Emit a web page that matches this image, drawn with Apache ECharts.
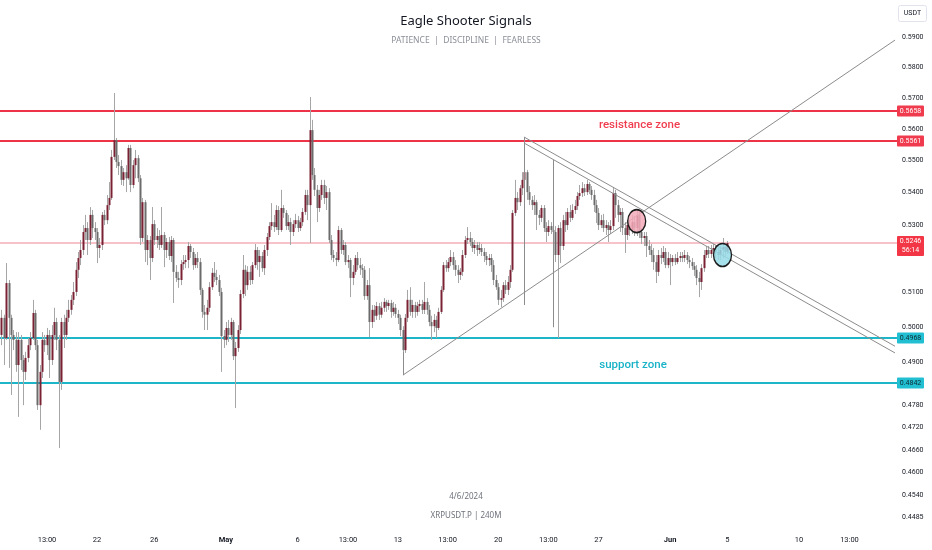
<!DOCTYPE html>
<html><head><meta charset="utf-8">
<script src="https://cdn.jsdelivr.net/npm/echarts@6/dist/echarts.min.js"></script>
<style>html,body{margin:0;padding:0;background:#fff}#c{width:932px;height:550px}</style>
</head><body><div id="c"></div>
<script>
// ---- data ----
const candleStart = '2024-04-15T08:00:00Z';
const candleHours = 4;
// [open, close, low, high]
const candles = [
[.4977,.5026,.4948,.5049],[.5026,.4968,.4892,.5035],[.4968,.5127,.4963,.5186],[.5127,.5026,.4884,.5136],[.5026,.4977,.4809,.5035],
[.4977,.4963,.4934,.4991],[.4963,.4892,.4873,.4985],[.4892,.4963,.4749,.4985],[.4963,.4906,.4878,.4977],[.4906,.4873,.4781,.4920],
[.4873,.4912,.4850,.4929],[.4912,.4948,.4900,.4968],[.4948,.4968,.4934,.4985],[.4968,.5040,.4963,.5078],[.5040,.4948,.4934,.5049],
[.4948,.4781,.4768,.4963],[.4781,.4873,.4714,.4892],[.4873,.4963,.4856,.4985],[.4963,.4948,.4929,.4977],[.4948,.4977,.4920,.4997],
[.4977,.4906,.4856,.4991],[.4906,.4977,.4892,.5005],[.4977,.5014,.4963,.5055],[.5014,.4963,.4934,.5026],[.4963,.4845,.4665,.4977],
[.4845,.5014,.4823,.5026],[.5014,.4977,.4940,.5035],[.4977,.5026,.4963,.5049],[.5026,.5049,.5014,.5078],[.5049,.5078,.5035,.5092],
[.5078,.5101,.5063,.5130],[.5101,.5166,.5089,.5189],[.5166,.5201,.5142,.5219],[.5201,.5225,.5180,.5255],[.5225,.5279,.5210,.5300],
[.5279,.5291,.5255,.5331],[.5291,.5255,.5210,.5309],[.5255,.5331,.5240,.5355],[.5331,.5291,.5261,.5346],[.5291,.5279,.5255,.5309],
[.5279,.5231,.5186,.5291],[.5231,.5240,.5201,.5261],[.5240,.5331,.5225,.5340],[.5331,.5315,.5300,.5346],[.5315,.5361,.5303,.5392],
[.5361,.5383,.5346,.5432],[.5383,.5511,.5377,.5533],[.5511,.5564,.5501,.5716],[.5564,.5495,.5476,.5571],[.5495,.5482,.5454,.5517],
[.5482,.5439,.5423,.5501],[.5439,.5463,.5420,.5476],[.5463,.5444,.5401,.5485],[.5444,.5539,.5439,.5549],[.5539,.5423,.5401,.5549],
[.5423,.5485,.5413,.5501],[.5485,.5507,.5444,.5533],[.5507,.5444,.5432,.5517],[.5444,.5261,.5240,.5454],[.5261,.5370,.5249,.5383],
[.5370,.5225,.5189,.5377],[.5225,.5255,.5180,.5270],[.5255,.5201,.5136,.5267],[.5201,.5303,.5189,.5355],[.5303,.5255,.5240,.5315],
[.5255,.5267,.5231,.5291],[.5267,.5240,.5225,.5285],[.5240,.5270,.5231,.5355],[.5270,.5225,.5174,.5279],[.5225,.5249,.5201,.5261],
[.5249,.5207,.5195,.5264],[.5207,.5255,.5189,.5267],[.5255,.5160,.5069,.5261],[.5160,.5142,.5130,.5180],[.5142,.5136,.5113,.5160],
[.5136,.5183,.5121,.5195],[.5183,.5189,.5166,.5210],[.5189,.5195,.5171,.5210],[.5195,.5237,.5171,.5249],[.5237,.5219,.5201,.5243],
[.5219,.5180,.5166,.5231],[.5180,.5201,.5171,.5213],[.5201,.5189,.5171,.5219],[.5189,.5107,.5092,.5201],[.5107,.5043,.5026,.5113],
[.5043,.5035,.4991,.5063],[.5035,.5055,.4991,.5078],[.5055,.5115,.5043,.5130],[.5115,.5157,.5107,.5171],[.5157,.5145,.5130,.5189],
[.5145,.5136,.5121,.5166],[.5136,.5101,.5089,.5151],[.5101,.4974,.4873,.5113],[.4974,.4963,.4940,.4991],[.4963,.4997,.4948,.5014],
[.4997,.4977,.4957,.5020],[.4977,.5014,.4963,.5026],[.5014,.4917,.4906,.5020],[.4917,.4940,.4773,.4957],[.4940,.4991,.4929,.5005],
[.4991,.5095,.4980,.5107],[.5095,.5166,.5083,.5210],[.5166,.5121,.5089,.5180],[.5121,.5160,.5107,.5177],[.5160,.5136,.5121,.5177],
[.5136,.5180,.5124,.5189],[.5180,.5225,.5171,.5243],[.5225,.5189,.5166,.5234],[.5189,.5207,.5145,.5225],[.5207,.5171,.5160,.5219],
[.5171,.5225,.5151,.5240],[.5225,.5264,.5207,.5276],[.5264,.5297,.5255,.5309],[.5297,.5309,.5285,.5367],[.5309,.5294,.5279,.5331],
[.5294,.5346,.5285,.5361],[.5346,.5285,.5270,.5358],[.5285,.5352,.5279,.5408],[.5352,.5337,.5322,.5361],[.5337,.5297,.5285,.5346],
[.5297,.5309,.5285,.5331],[.5309,.5279,.5240,.5322],[.5279,.5303,.5267,.5315],[.5303,.5315,.5291,.5334],[.5315,.5291,.5279,.5328],
[.5291,.5309,.5282,.5322],[.5309,.5340,.5297,.5352],[.5340,.5392,.5331,.5408],[.5392,.5361,.5315,.5408],[.5361,.5596,.5246,.5703],
[.5596,.5454,.5439,.5629],[.5454,.5408,.5389,.5476],[.5408,.5352,.5309,.5423],[.5352,.5392,.5340,.5408],[.5392,.5423,.5377,.5439],
[.5423,.5383,.5364,.5439],[.5383,.5401,.5346,.5420],[.5401,.5255,.5246,.5413],[.5255,.5210,.5195,.5270],[.5210,.5201,.5189,.5225],
[.5201,.5195,.5177,.5219],[.5195,.5285,.5189,.5297],[.5285,.5225,.5213,.5291],[.5225,.5240,.5210,.5255],[.5240,.5189,.5180,.5249],
[.5189,.5195,.5171,.5210],[.5195,.5142,.5086,.5201],[.5142,.5160,.5121,.5180],[.5160,.5201,.5151,.5210],[.5201,.5180,.5166,.5219],
[.5180,.5171,.5151,.5201],[.5171,.5166,.5142,.5183],[.5166,.5089,.5078,.5177],[.5089,.5121,.5078,.5136],[.5121,.5014,.4971,.5171],
[.5014,.5049,.4997,.5063],[.5049,.5032,.5014,.5063],[.5032,.5060,.5020,.5072],[.5060,.5035,.5020,.5069],[.5035,.5055,.5026,.5072],
[.5055,.5072,.5043,.5083],[.5072,.5060,.5043,.5078],[.5060,.5069,.5049,.5078],[.5069,.5043,.5026,.5078],[.5043,.5055,.5032,.5072],
[.5055,.5037,.5026,.5066],[.5037,.5026,.5008,.5049],[.5026,.4991,.4974,.5035],[.4991,.4934,.4900,.5002],[.4934,.5026,.4926,.5037],
[.5026,.5078,.5014,.5107],[.5078,.5043,.5032,.5115],[.5043,.5063,.5026,.5078],[.5063,.5043,.5026,.5072],[.5043,.5060,.5032,.5072],
[.5060,.5066,.5043,.5078],[.5066,.5049,.5037,.5078],[.5049,.5072,.5037,.5130],[.5072,.5049,.5035,.5083],[.5049,.5014,.5002,.5063],
[.5014,.5002,.4963,.5032],[.5002,.5020,.4985,.5037],[.5020,.4997,.4968,.5032],[.4997,.5043,.4991,.5055],[.5043,.5107,.5037,.5118],
[.5107,.5180,.5101,.5189],[.5180,.5171,.5160,.5195],[.5171,.5189,.5160,.5201],[.5189,.5204,.5177,.5225],[.5204,.5180,.5166,.5219],
[.5180,.5166,.5148,.5195],[.5166,.5151,.5127,.5180],[.5151,.5160,.5136,.5171],[.5160,.5210,.5148,.5225],[.5210,.5255,.5201,.5267],
[.5255,.5261,.5243,.5294],[.5261,.5249,.5237,.5279],[.5249,.5231,.5219,.5261],[.5231,.5240,.5213,.5255],[.5240,.5225,.5207,.5249],
[.5225,.5231,.5213,.5249],[.5231,.5219,.5207,.5243],[.5219,.5207,.5189,.5231],[.5207,.5195,.5180,.5219],[.5195,.5201,.5177,.5213],
[.5201,.5180,.5160,.5213],[.5180,.5136,.5121,.5195],[.5136,.5115,.5107,.5151],[.5115,.5078,.5063,.5127],[.5078,.5083,.5057,.5107],
[.5083,.5121,.5072,.5130],[.5121,.5107,.5095,.5136],[.5107,.5130,.5092,.5148],[.5130,.5166,.5113,.5180],[.5166,.5337,.5160,.5346],
[.5337,.5383,.5328,.5439],[.5383,.5370,.5346,.5401],[.5370,.5413,.5358,.5423],[.5413,.5439,.5392,.5463],[.5439,.5463,.5408,.5476],
[.5463,.5401,.5377,.5470],[.5401,.5377,.5361,.5420],[.5377,.5361,.5346,.5389],[.5361,.5370,.5331,.5392],[.5370,.5331,.5285,.5377],
[.5331,.5322,.5300,.5346],[.5322,.5352,.5309,.5361],[.5352,.5291,.5279,.5361],[.5291,.5279,.5249,.5309],[.5279,.5297,.5267,.5315],
[.5297,.5285,.5273,.5309],[.5285,.5279,.5255,.5303],[.5279,.5210,.5189,.5297],[.5210,.5291,.4968,.5300],[.5291,.5237,.5186,.5309],
[.5237,.5315,.5225,.5331],[.5315,.5300,.5279,.5340],[.5300,.5340,.5285,.5352],[.5340,.5322,.5309,.5361],[.5322,.5346,.5315,.5364],
[.5346,.5358,.5334,.5377],[.5358,.5389,.5346,.5401],[.5389,.5398,.5377,.5423],[.5398,.5413,.5386,.5432],[.5413,.5401,.5389,.5426],
[.5401,.5426,.5392,.5439],[.5426,.5408,.5395,.5432],[.5408,.5392,.5377,.5420],[.5392,.5361,.5340,.5408],[.5361,.5337,.5306,.5377],
[.5337,.5300,.5285,.5352],[.5300,.5315,.5291,.5331],[.5315,.5291,.5279,.5334],[.5291,.5300,.5270,.5315],[.5300,.5285,.5249,.5309],
[.5285,.5297,.5273,.5315],[.5297,.5398,.5285,.5417],[.5398,.5361,.5322,.5408],[.5361,.5331,.5309,.5377],[.5331,.5340,.5279,.5352],
[.5340,.5291,.5270,.5352],[.5291,.5270,.5216,.5309],[.5270,.5300,.5255,.5315],[.5300,.5285,.5267,.5315],[.5285,.5309,.5273,.5331],
[.5309,.5291,.5267,.5328],[.5291,.5331,.5267,.5346],[.5331,.5279,.5261,.5346],[.5279,.5261,.5243,.5291],[.5261,.5267,.5237,.5279],
[.5267,.5237,.5204,.5279],[.5237,.5225,.5210,.5255],[.5225,.5210,.5189,.5243],[.5210,.5189,.5166,.5231],[.5189,.5160,.5127,.5210],
[.5160,.5210,.5148,.5225],[.5210,.5201,.5183,.5231],[.5201,.5219,.5189,.5237],[.5219,.5180,.5171,.5231],[.5180,.5201,.5171,.5219],
[.5201,.5189,.5121,.5213],[.5189,.5201,.5177,.5210],[.5201,.5189,.5180,.5213],[.5189,.5201,.5183,.5219],[.5201,.5207,.5189,.5219],
[.5207,.5201,.5189,.5219],[.5201,.5210,.5189,.5225],[.5210,.5195,.5183,.5219],[.5195,.5189,.5171,.5207],[.5189,.5177,.5166,.5201],
[.5177,.5166,.5148,.5189],[.5166,.5142,.5121,.5180],[.5142,.5130,.5086,.5160],[.5130,.5171,.5107,.5183],[.5171,.5210,.5160,.5225],
[.5210,.5225,.5201,.5237],[.5225,.5213,.5201,.5237],[.5213,.5225,.5201,.5240],[.5225,.5231,.5207,.5243],[.5231,.5219,.5201,.5240],
[.5219,.5210,.5195,.5231],[.5210,.5225,.5195,.5237],[.5225,.5234,.5201,.5261],[.5234,.5219,.5207,.5243],[.5219,.5246,.5213,.5252]
];

const yTicks = [0.59, 0.58, 0.57, 0.56, 0.55, 0.54, 0.53, 0.51, 0.50, 0.49, 0.478, 0.472, 0.466, 0.46, 0.454, 0.4485];
const xTickTimes = ['2024-04-18T12:14:00Z','2024-04-22T00:00:00Z','2024-04-26T00:00:00Z','2024-05-01T00:00:00Z','2024-05-06T00:00:00Z',
  '2024-05-09T12:27:00Z','2024-05-13T00:00:00Z','2024-05-16T11:28:00Z','2024-05-20T00:00:00Z','2024-05-23T12:00:00Z',
  '2024-05-27T00:00:00Z','2024-06-01T00:00:00Z','2024-06-05T00:00:00Z','2024-06-10T00:00:00Z','2024-06-13T12:31:00Z'];
const xTickTexts = ['13:00','22','26','May','6','13:00','13','13:00','20','13:00','27','Jun','5','10','13:00'];
const xBold = ['May','Jun'];

const resistanceLevels = [0.5658, 0.5561];
const supportLevels = [0.4968, 0.4842];
const lastPrice = 0.5246;
const countdown = '56:14';

// drawn trend lines: [[time, price], [time, price]]
const trendLines = [
  [['2024-05-13T08:35:00Z', 0.4864], ['2024-06-16T16:47:00Z', 0.5892]],
  [['2024-05-21T19:18:00Z', 0.5574], ['2024-06-16T16:47:00Z', 0.4945]],
  [['2024-05-21T19:18:00Z', 0.5555], ['2024-06-16T16:47:00Z', 0.4926]],
  [['2024-05-21T19:18:00Z', 0.5574], ['2024-05-21T19:18:00Z', 0.5063]],
  [['2024-05-23T19:52:00Z', 0.5501], ['2024-05-23T19:52:00Z', 0.4999]],
  [['2024-05-13T08:35:00Z', 0.4929], ['2024-05-13T08:35:00Z', 0.4864]]
];
const circleMarks = [
  {time: '2024-05-29T16:05:00Z', price: 0.5312, fill: 'rgba(243,170,186,0.85)'},
  {time: '2024-06-04T15:50:00Z', price: 0.5210, fill: 'rgba(150,218,232,0.85)'}
];
const zoneLabels = [
  {text: 'resistance zone', time: '2024-05-29T20:47:00Z', price: 0.5612, color: '#f03e50'},
  {text: 'support zone', time: '2024-05-29T09:53:00Z', price: 0.4892, color: '#19b3c7'}
];
const xMin = '2024-04-15T05:30:00Z', xMax = '2024-06-16T20:08:00Z';
const yMin = 0.44666, yMax = 0.60287;

// ---- build ----
const t0 = Date.parse(candleStart);
const rows = candles.map((c, i) => [t0 + i * candleHours * 3600000, c[0], c[1], c[2], c[3]]);
const tickNums = xTickTimes.map(s => Date.parse(s));
const tickMap = {};
tickNums.forEach((t, i) => tickMap[t] = xTickTexts[i]);
const P = s => Date.parse(s);

// level styles: [lineColor, lineWidth, tagBg, tagText]
const LEVEL_STYLE = {
  r: ['#ec3347', 2, '#ef3b4d', '#ffffff'],
  c: ['#1db6c9', 2, '#22bfd3', '#0d2a30'],
  p: ['#f7c2ca', 2, '#f23645', '#ffffff']
};
const levelRows = [[P(xMin), lastPrice, 'p']]
  .concat(resistanceLevels.map(v => [P(xMin), v, 'r']))
  .concat(supportLevels.map(v => [P(xMin), v, 'c']));

const greyData = trendLines.map(seg => [
  {coord: [P(seg[0][0]), seg[0][1]]},
  {coord: [P(seg[1][0]), seg[1][1]]}
]);

const option = {
  animation: false,
  backgroundColor: '#ffffff',
  title: {
    text: 'Eagle Shooter Signals', subtext: 'PATIENCE  |  DISCIPLINE  |  FEARLESS',
    left: 'center', top: 10, itemGap: 8,
    textStyle: {fontSize: 13, fontWeight: 'normal', color: '#131722', fontFamily: 'Noto Sans'},
    subtextStyle: {fontSize: 8.5, color: '#8c8f98', fontFamily: 'Noto Sans'}
  },
  grid: {left: 0, right: 35, top: 0, bottom: 26},
  xAxis: {
    type: 'value', min: P(xMin), max: P(xMax),
    axisLine: {show: false}, axisTick: {show: false}, splitLine: {show: false},
    axisLabel: {
      customValues: tickNums, margin: 12, fontSize: 7.5, color: '#131722', fontFamily: 'Roboto',
      formatter: v => { const s = tickMap[v] || ''; return xBold.includes(s) ? '{b|' + s + '}' : s; },
      rich: {b: {fontWeight: 'bold', fontSize: 7.5, color: '#131722', fontFamily: 'Roboto'}}
    }
  },
  yAxis: {
    type: 'log', logBase: 10, min: yMin, max: yMax, position: 'right',
    axisLine: {show: false}, axisTick: {show: false}, splitLine: {show: false}, minorTick: {show: false},
    axisLabel: {customValues: yTicks, margin: 5, fontSize: 7, color: '#131722', fontFamily: 'Roboto',
      formatter: v => Number(v).toFixed(4)}
  },
  graphic: [
    {type: 'rect', shape: {x: 898.5, y: 5.5, width: 28, height: 16, r: 2}, style: {fill: '#fff', stroke: '#e0e3eb', lineWidth: 1}},
    {type: 'text', x: 912.5, y: 13.5, style: {text: 'USDT', fontSize: 7, fill: '#131722', fontFamily: 'Roboto', align: 'center', verticalAlign: 'middle'}},
    {type: 'text', x: 466, y: 497, style: {text: '4/6/2024', fontSize: 8, fill: '#6f727c', fontFamily: 'Noto Sans', align: 'center', verticalAlign: 'middle'}},
    {type: 'text', x: 466, y: 516, style: {text: 'XRPUSDT.P | 240M', fontSize: 8, fill: '#6f727c', fontFamily: 'Noto Sans', align: 'center', verticalAlign: 'middle'}}
  ],
  series: [
    {
      // horizontal price levels with price tags
      type: 'custom', z: 2, clip: false, silent: true,
      data: levelRows,
      encode: {x: 0, y: 1},
      renderItem: function (params, api) {
        const kind = levelRows[params.dataIndex][2];
        const st = LEVEL_STYLE[kind];
        const v = api.value(1);
        const cs = params.coordSys;
        const yRaw = api.coord([api.value(0), v])[1];
        const y = st[1] % 2 === 1 ? Math.round(yRaw) + 0.5 : Math.round(yRaw);
        const right = cs.x + cs.width;
        const two = kind === 'p';
        const text = two ? v.toFixed(4) + '\n' + countdown : v.toFixed(4);
        const h = two ? 20 : 11;
        const top = two ? yRaw - 7 : yRaw - 5.5;
        return {type: 'group', children: [
          {type: 'line', shape: {x1: cs.x, y1: y, x2: right, y2: y}, style: {stroke: st[0], lineWidth: st[1]}},
          {type: 'rect', shape: {x: right, y: top, width: 27, height: h, r: 1}, style: {fill: st[2]}},
          {type: 'text', x: right + 13.5, y: top + h / 2, style: {text: text, fill: st[3], fontSize: 7, fontFamily: 'Roboto',
            align: 'center', verticalAlign: 'middle', lineHeight: 9}}
        ]};
      }
    },
    {
      type: 'line', data: [], silent: true, z: 4,
      markLine: {silent: true, symbol: ['none', 'none'], animation: false,
        lineStyle: {color: '#8c8c8c', width: 1, type: 'solid'}, label: {show: false}, data: greyData}
    },
    {
      type: 'custom', z: 3,
      data: rows,
      encode: {x: 0, y: [1, 2, 3, 4]},
      renderItem: function (params, api) {
        const t = api.value(0), o = api.value(1), c = api.value(2), l = api.value(3), h = api.value(4);
        const pO = api.coord([t, o]), pC = api.coord([t, c]), pL = api.coord([t, l]), pH = api.coord([t, h]);
        const x = Math.round(pO[0]) + 0.5;
        const up = c >= o;
        const top = Math.min(pO[1], pC[1]), bot = Math.max(pO[1], pC[1]);
        return {type: 'group', children: [
          {type: 'line', shape: {x1: x, y1: pH[1], x2: x, y2: pL[1]}, style: {stroke: '#a6a6a6', lineWidth: 1}},
          {type: 'rect', shape: {x: x - 1, y: top, width: 2, height: Math.max(1, bot - top)},
            style: {fill: up ? '#7a2234' : '#6b6b6b'}}
        ]};
      }
    },
    {
      type: 'line', data: [], silent: true, z: 5,
      markPoint: {
        silent: true, animation: false,
        data: circleMarks.map(m => ({coord: [P(m.time), m.price], symbol: 'circle', symbolSize: [18, 23],
          itemStyle: {color: m.fill, borderColor: '#1b1b1b', borderWidth: 1.5}, label: {show: false}}))
          .concat(zoneLabels.map(z => ({coord: [P(z.time), z.price], symbol: 'circle', symbolSize: 1,
            itemStyle: {color: 'rgba(0,0,0,0)'},
            label: {show: true, position: 'inside', formatter: z.text, color: z.color, fontSize: 11.5, fontFamily: 'Roboto', fontWeight: 500}})))
      }
    }
  ]
};
const chart = echarts.init(document.getElementById('c'), null, {renderer: 'canvas'});
chart.setOption(option);
</script>
</body></html>
